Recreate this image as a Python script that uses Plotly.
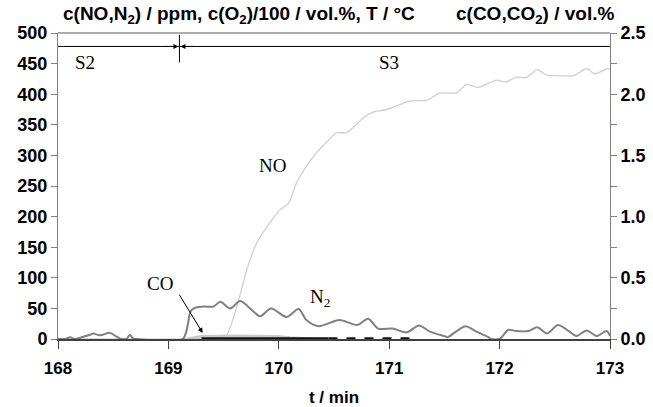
import plotly.graph_objects as go

# NO (ppm, left axis)
no_t = [168.0, 169.0, 169.45, 169.53, 169.62, 169.71, 169.80, 169.92, 170.01, 170.09, 170.16, 170.25,
        170.34, 170.43, 170.52, 170.61, 170.67, 170.77, 170.86, 170.92, 170.98, 171.19, 171.34,
        171.46, 171.61, 171.70, 171.81, 171.97, 172.06, 172.15, 172.24, 172.34, 172.43, 172.58,
        172.67, 172.79, 172.86, 172.98, 173.0]
no_v = [0, 0, 3, 7, 53, 113, 157, 190, 211, 222, 255, 282,
        304, 321, 337, 337, 345, 362, 371, 373, 375, 389, 390,
        402, 402, 416, 411, 423, 420, 428, 427, 440, 431, 430,
        430, 442, 433, 442, 441]

# N2 (ppm, left axis)
n2_t = [168.0, 168.08, 168.11, 168.15, 168.29, 168.32, 168.38, 168.47, 168.53, 168.56, 168.62,
        168.65, 168.68, 168.72, 169.13, 169.20, 169.23, 169.32, 169.41, 169.47, 169.56, 169.65,
        169.77, 169.83, 169.93, 170.07, 170.18, 170.25, 170.36, 170.55, 170.71, 170.81, 170.90,
        171.03, 171.16, 171.27, 171.37, 171.51, 171.53, 171.69, 171.79, 171.90, 171.92, 172.0,
        172.08, 172.15, 172.26, 172.34, 172.43, 172.53, 172.67, 172.70, 172.79, 172.88, 172.97, 173.0]
n2_v = [0, 1, 3, 0, 7, 9, 6, 10, 4, 1, 0,
        7, 1, 0, 0, 45, 50, 53, 53, 61, 50, 62,
        45, 37, 50, 36, 49, 31, 21, 31, 23, 33, 17,
        17, 11, 22, 12, 4, 3, 21, 12, 3, 0, 0,
        15, 13, 13, 19, 9, 23, 7, 5, 14, 5, 13, 5]

# CO (vol.%, right axis)
co_t = [169.17, 169.3, 169.6, 170.0, 170.1, 170.3]
co_v = [0, 0.02, 0.025, 0.02, 0.01, 0]

# CO2 (vol.%, right axis)
co2a_t = [169.3, 170.45]
co2a_v = [0.004, 0.004]
co2b_t = [170.45, 171.25]
co2b_v = [0.004, 0.004]

fig = go.Figure()
fig.add_trace(go.Scatter(x=no_t, y=no_v, mode="lines", line=dict(color="#cfcfcf", width=1.3, shape="spline", smoothing=0.5), showlegend=False))
fig.add_trace(go.Scatter(x=co_t, y=co_v, mode="lines", yaxis="y2", line=dict(color="#c8c8c8", width=3), showlegend=False))
fig.add_trace(go.Scatter(x=co2a_t, y=co2a_v, mode="lines", yaxis="y2", line=dict(color="#111111", width=2.5), showlegend=False))
fig.add_trace(go.Scatter(x=co2b_t, y=co2b_v, mode="lines", yaxis="y2", line=dict(color="#111111", width=2.5, dash="dash"), showlegend=False))
fig.add_trace(go.Scatter(x=n2_t, y=n2_v, mode="lines", line=dict(color="#808080", width=2, shape="spline", smoothing=0.8), showlegend=False))

xtickfont = dict(family="Liberation Sans, Arial", size=17, color="black", weight="bold")
ytickfont = dict(family="Liberation Sans, Arial", size=18, color="black", weight="bold")
serif = dict(family="Liberation Serif, Times New Roman", size=19, color="black")
titlefont = dict(family="Liberation Sans, Arial", size=19, color="black", weight="bold")

fig.update_layout(
    width=653, height=407,
    margin=dict(l=58, r=43, t=33, b=68, autoexpand=False),
    plot_bgcolor="white", paper_bgcolor="white",
    xaxis=dict(range=[168, 173], dtick=1, ticks="outside", ticklen=8, tickcolor="#404040",
               showline=True, linecolor="#404040", linewidth=1.5, mirror=False, showgrid=False,
               zeroline=False, tickfont=xtickfont, automargin=False, ticklabelstandoff=5,
               title=dict(text="t / min", font=dict(family="Liberation Sans, Arial", size=17, color="black", weight="bold"), standoff=20)),
    yaxis=dict(range=[0, 500], dtick=50, ticks="outside", ticklen=6, tickcolor="#808080",
               showline=True, linecolor="#808080", linewidth=1, showgrid=False, zeroline=False,
               tickfont=ytickfont, automargin=False),
    yaxis2=dict(range=[0, 2.5], dtick=0.5, overlaying="y", side="right", ticks="outside", ticklen=6,
                tickcolor="#808080", showline=True, linecolor="#808080", linewidth=1, showgrid=False,
                zeroline=False, tickfont=ytickfont, tickformat=".1f", automargin=False,
                minor=dict(dtick=0.25, ticks="outside", ticklen=6, tickcolor="#808080")),
)

shapes = [
    dict(type="line", xref="paper", yref="paper", x0=0, x1=1, y0=1, y1=1, line=dict(color="#909090", width=1.5)),
    dict(type="line", xref="x", yref="y", x0=168, x1=173, y0=478, y1=478, line=dict(color="black", width=1)),
    dict(type="line", xref="x", yref="y", x0=169.1, x1=169.1, y0=452, y1=497, line=dict(color="black", width=1)),
]
fig.update_layout(shapes=shapes)

ann = [
    dict(x=169.1, y=478, ax=-16, ay=0, text="", showarrow=True, arrowhead=2, arrowsize=1, arrowwidth=1, arrowcolor="black", standoff=1),
    dict(x=169.1, y=478, ax=16, ay=0, text="", showarrow=True, arrowhead=2, arrowsize=1, arrowwidth=1, arrowcolor="black", standoff=1),
    dict(x=168.24, y=452, text="S2", showarrow=False, font=serif),
    dict(x=171.0, y=452, text="S3", showarrow=False, font=serif),
    dict(x=169.94, y=284, text="NO", showarrow=False, font=serif),
    dict(x=168.92, y=90, text="CO", showarrow=False, font=serif),
    dict(x=170.37, y=67, text="N<sub>2</sub>", showarrow=False, font=serif),
    dict(x=169.31, y=10, ax=169.09, ay=75, axref="x", ayref="y", text="", showarrow=True,
         arrowhead=2, arrowsize=1, arrowwidth=1, arrowcolor="black"),
    dict(xref="paper", yref="paper", x=0.005, y=1.0, yshift=4, xanchor="left", yanchor="bottom",
         text="c(NO,N<sub>2</sub>) / ppm, c(O<sub>2</sub>)/100 / vol.%, T / °C", showarrow=False,
         font=titlefont),
    dict(xref="paper", yref="paper", x=1.01, y=1.0, yshift=4, xanchor="right", yanchor="bottom",
         text="c(CO,CO<sub>2</sub>) / vol.%", showarrow=False,
         font=titlefont),
]
fig.update_layout(annotations=ann)

fig.write_html("out.html", config={"displayModeBar": False},
               post_script="document.body.style.margin='0';document.body.style.overflow='hidden';")
